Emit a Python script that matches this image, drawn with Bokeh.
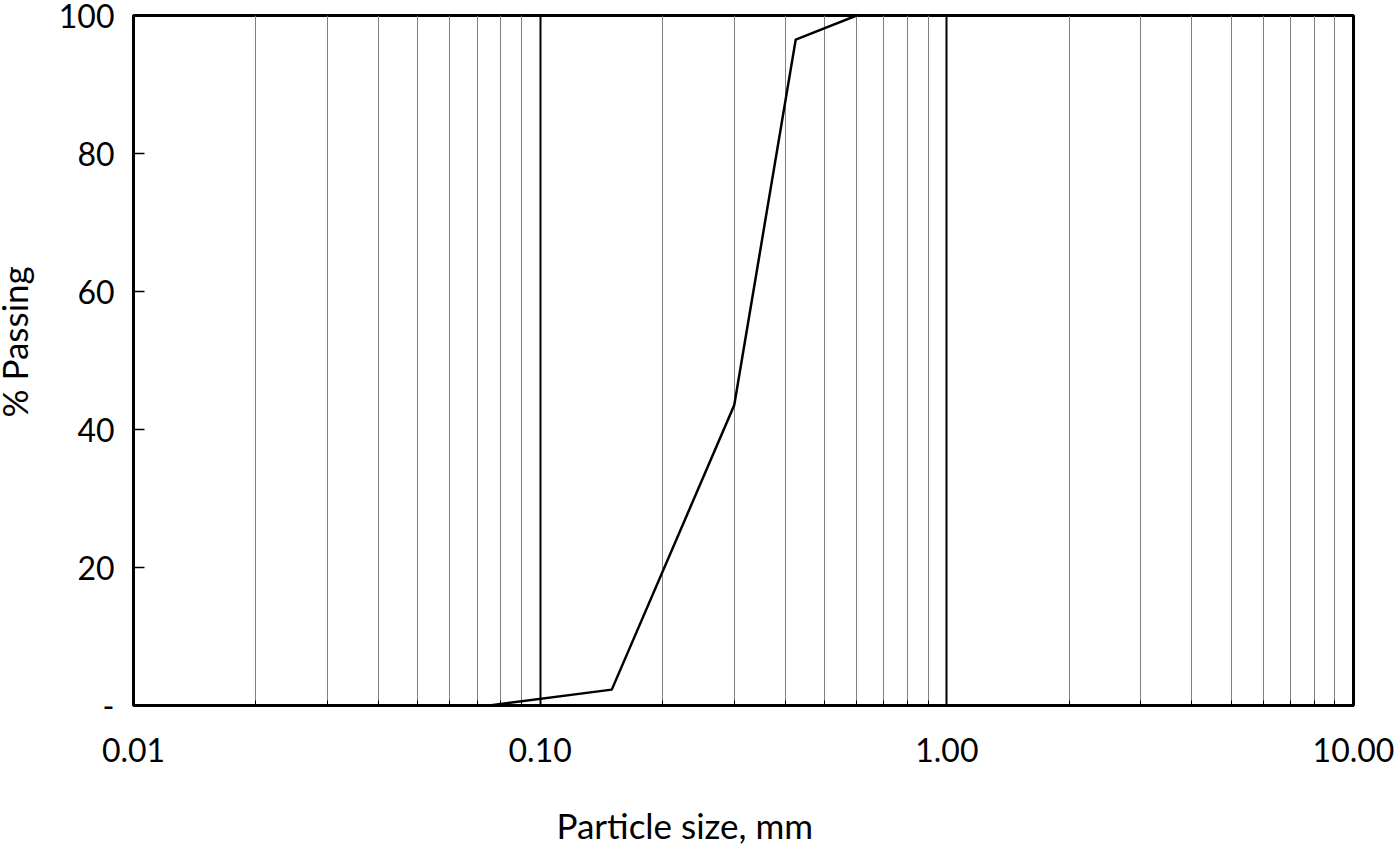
from bokeh.plotting import figure
from bokeh.models import FixedTicker, Title
from bokeh.embed import file_html
from bokeh.resources import INLINE

# ---- data ----
sizes_mm = [0.075, 0.15, 0.3, 0.425, 0.6]
passing_pct = [0.0, 2.3, 43.5, 96.5, 100.0]

x_major = [0.01, 0.1, 1.0, 10.0]
x_labels = ["0.01", "0.10", "1.00", "10.00"]
x_minor_mantissas = [2, 3, 4, 5, 6, 7, 8, 9]
y_major = [0, 20, 40, 60, 80, 100]
y_labels = ["-", "20", "40", "60", "80", "100"]
x_title = "Particle size, mm"
y_title = "% Passing"

FONT = "Lato"

x_minor = [m * d for d in x_major[:-1] for m in x_minor_mantissas]

p = figure(width=1394, height=845, x_axis_type="log",
           x_range=(x_major[0], x_major[-1]), y_range=(y_major[0], y_major[-1]),
           output_backend="svg", toolbar_location=None,
           min_border_left=133, min_border_right=41, min_border_top=15, min_border_bottom=140)
p.background_fill_color = "white"
p.border_fill_color = "white"
p.outline_line_color = "black"
p.outline_line_width = 3

# x axis
xa = p.xaxis[0]
xa.ticker = FixedTicker(ticks=x_major, minor_ticks=x_minor)
xa.major_label_overrides = {v: l for v, l in zip(x_major, x_labels)}
xa.major_tick_in = 5
xa.major_tick_out = 0
xa.minor_tick_in = 5
xa.minor_tick_out = 0
xa.major_tick_line_color = "black"
xa.minor_tick_line_color = "black"
xa.axis_line_color = "black"
xa.axis_line_width = 3
xa.major_label_text_font = FONT
xa.major_label_text_font_size = "32px"
xa.major_label_text_color = "black"
xa.major_label_standoff = 32
# spacer between tick labels and the title
xa.axis_label = "\u00a0"
xa.axis_label_text_font_size = "2px"
xa.axis_label_standoff = 32

# y axis
ya = p.yaxis[0]
ya.ticker = FixedTicker(ticks=y_major)
ya.major_label_overrides = {v: l for v, l in zip(y_major, y_labels)}
ya.major_tick_in = 11
ya.major_tick_out = 0
ya.major_tick_line_color = "black"
ya.major_tick_line_width = 1.5
ya.minor_tick_line_color = None
ya.axis_line_color = "black"
ya.axis_line_width = 3
ya.major_label_text_font = FONT
ya.major_label_text_font_size = "32px"
ya.major_label_text_color = "black"
ya.major_label_standoff = 19
ya.axis_label = "\u00a0"
ya.axis_label_text_font_size = "2px"
ya.axis_label_standoff = 3

# grids
p.ygrid.grid_line_color = None
p.xgrid.grid_line_color = "black"
p.xgrid.grid_line_width = 2
p.xgrid.minor_grid_line_color = "#808080"
p.xgrid.minor_grid_line_width = 1

# data line
p.line(sizes_mm, passing_pct, line_color="black", line_width=2.5)

# axis titles
p.add_layout(Title(text=x_title, align="left", offset=423, vertical_align="bottom",
                   text_font=FONT, text_font_size="35px", text_font_style="normal",
                   text_color="black", standoff=0), "below")
yt = Title(text=y_title, align="left", offset=288, vertical_align="top",
           text_font=FONT, text_font_size="35px", text_font_style="normal",
           text_color="black", standoff=0)
try:
    yt.standoff = -22
    ya.axis_label_standoff = 3 + 22
except Exception:
    yt.standoff = 0
    ya.axis_label_standoff = 3
p.add_layout(yt, "left")

open("out.html", "w").write(file_html(p, INLINE))
